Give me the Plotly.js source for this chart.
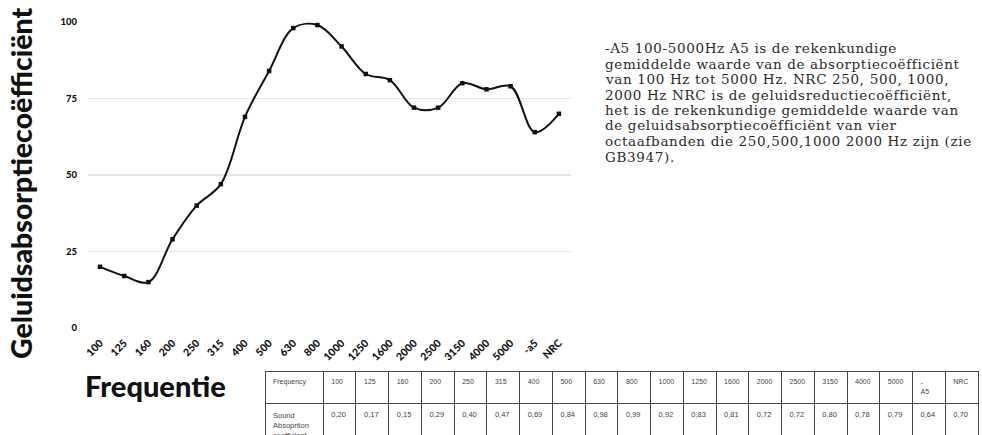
<!DOCTYPE html>
<html><head><meta charset="utf-8">
<script src="https://cdn.plot.ly/plotly-3.0.1.min.js"></script>
<style>html,body{margin:0;padding:0;background:#fff}#chart{width:982px;height:435px}</style>
</head><body><div id="chart"></div>
<script>
const categories = ["100","125","160","200","250","315","400","500","630","800","1000","1250","1600","2000","2500","3150","4000","5000","-a5","NRC"];
const values = [20,17,15,29,40,47,69,84,98,99,92,83,81,72,72,80,78,79,64,70];
const tableHeader = ["Frequency","100","125","160","200","250","315","400","500","630","800","1000","1250","1600","2000","2500","3150","4000","5000","-<br>A5","NRC"];
const tableRowLabel = "Sound<br>Absoprtion<br>coefficient";
const noteLines = [
  "-A5 100-5000Hz A5 is de rekenkundige",
  "gemiddelde waarde van de absorptiecoëfficiënt",
  "van 100 Hz tot 5000 Hz. NRC 250, 500, 1000,",
  "2000 Hz NRC is de geluidsreductiecoëfficiënt,",
  "het is de rekenkundige gemiddelde waarde van",
  "de geluidsabsorptiecoëfficiënt van vier",
  "octaafbanden die 250,500,1000 2000 Hz zijn (zie",
  "GB3947)."
];
const yTitle = "Geluidsabsorptiecoëfficiënt";
const xTitle = "Frequentie";

const W = 982, H = 435;
const px = v => v / W, py = v => 1 - v / H;

const line = {
  type: 'scatter', mode: 'lines+markers',
  x: categories, y: values,
  line: {color: '#111', width: 2, shape: 'spline', smoothing: 1},
  marker: {color: '#111', size: 4.5, symbol: 'square'},
  hoverinfo: 'skip', showlegend: false,
  xaxis: 'x', yaxis: 'y'
};

const cellVals = [[tableRowLabel]].concat(values.map(v => [(v/100).toFixed(2).replace('.', ',')]));
const table = {
  type: 'table',
  domain: {x: [px(265), px(978)], y: [0, py(371)]},
  columnwidth: [58].concat(categories.map(() => 32.6)),
  header: {
    values: tableHeader,
    align: 'left', height: 26,
    line: {color: '#444', width: 1},
    fill: {color: '#fff'},
    font: {family: 'Liberation Sans, Arial', size: 7, color: '#444'}
  },
  cells: {
    values: cellVals,
    align: 'left', height: 38,
    line: {color: '#444', width: 1},
    fill: {color: '#fff'},
    font: {family: 'Liberation Sans, Arial', size: 7.5, color: '#444'}
  }
};

const annotations = [];
annotations.push({
  xref: 'paper', yref: 'paper', x: px(21), y: py(184), text: yTitle,
  textangle: -90, showarrow: false, xanchor: 'center', yanchor: 'middle',
  font: {family: 'Lato', weight: 900, size: 28.5, color: '#111'}
});
annotations.push({
  xref: 'paper', yref: 'paper', x: px(83), y: py(385), text: xTitle,
  showarrow: false, xanchor: 'left', yanchor: 'middle',
  font: {family: 'Lato', weight: 900, size: 29, color: '#111'}
});
noteLines.forEach((t, i) => {
  annotations.push({
    xref: 'paper', yref: 'paper', x: px(603), y: py(48 + i * 15.5),
    text: '<span style="letter-spacing:0.65px">' + t + '</span>',
    showarrow: false, xanchor: 'left', yanchor: 'middle',
    font: {family: 'DejaVu Serif', size: 13.5, color: '#2a2a2a'}
  });
});

const layout = {
  width: W, height: H,
  margin: {l: 0, r: 0, t: 0, b: 0},
  paper_bgcolor: '#fff', plot_bgcolor: '#fff',
  xaxis: {
    domain: [px(88), px(571)], type: 'category', range: [-0.5, 19.5],
    showgrid: false, zeroline: false, showline: false,
    tickangle: -45, ticks: '', ticklabelstandoff: 6,
    tickfont: {family: 'Lato', weight: 900, size: 10.5, color: '#111'}
  },
  yaxis: {
    domain: [1 - 328 / H, 1 - 22 / H], range: [0, 100],
    tickvals: [0, 25, 50, 75, 100],
    showgrid: true, gridcolor: '#e4e4e4', gridwidth: 1.5,
    zeroline: false, showline: false, ticks: '', ticklabelstandoff: 10,
    tickfont: {family: 'Lato', weight: 900, size: 9.5, color: '#111'}
  },
  annotations: annotations
};

Plotly.newPlot('chart', [line, table], layout, {displayModeBar: false, staticPlot: true});
</script>
</body></html>
